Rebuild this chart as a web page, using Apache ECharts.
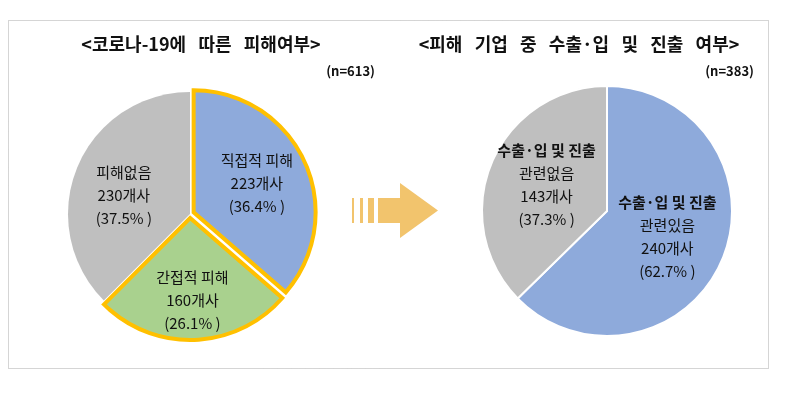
<!DOCTYPE html>
<html>
<head>
<meta charset="utf-8">
<script src="https://cdn.jsdelivr.net/npm/echarts@6/dist/echarts.min.js"></script>
<style>
html,body{margin:0;padding:0;background:#fff;}
#c{width:789px;height:394px;}
</style>
</head>
<body>
<div id="c"></div>
<script>
// Left chart data
const leftTitle = '<코로나-19에   따른   피해여부>';
const leftN = '(n=613)';
const leftNames = ['직접적 피해', '간접적 피해', '피해없음'];
const leftCounts = [223, 160, 230];
const leftPcts = ['36.4', '26.1', '37.5'];

// Right chart data
const rightTitle = '<피해   기업   중   수출·입   및   진출   여부>';
const rightN = '(n=383)';
const rightNames = ['수출·입 및 진출\n관련있음', '수출·입 및 진출\n관련없음'];
const rightCounts = [240, 143];
const rightPcts = ['62.7', '37.3'];

const FONT = '"Noto Sans CJK KR", "Noto Sans", sans-serif';
const BLUE = '#8EAADB', GRAY = '#BFBFBF', GREEN = '#A9D18E', GOLD = '#FFC000';

const chart = echarts.init(document.getElementById('c'), null, {renderer: 'canvas'});

const leftColors = [BLUE, GREEN, GRAY];
const leftData = leftNames.map((n, i) => ({
  name: n,
  value: leftCounts[i],
  selected: i < 2,
  itemStyle: i < 2
    ? {color: leftColors[i], borderColor: GOLD, borderWidth: 4, borderJoin: 'miter'}
    : {color: leftColors[i], borderColor: '#fff', borderWidth: 0},
  label: i === 1 ? {padding: [36, 0, 0, 0]} : (i === 2 ? {padding: [12, 14, 0, 0]} : {padding: [0, 0, 4, 10]})
}));

const rightColors = [BLUE, GRAY];
const rightData = rightNames.map((n, i) => ({
  name: n,
  value: rightCounts[i],
  itemStyle: {color: rightColors[i]},
  label: i === 1 ? {padding: [0, 0, 2, 0]} : {padding: [0, 0, 0, 0]}
}));

const labelText = (p, pcts) => {
  const lines = p.name.split('\n');
  const out = [];
  lines.forEach((l, k) => {
    if (lines.length > 1 && k === 0) out.push('{b|' + l + '}');
    else out.push('{a|' + l + '}');
  });
  out.push('{a|' + p.value + '개사}');
  out.push('{a|(' + pcts[p.dataIndex] + '% )}');
  return out.join('\n');
};

const richStyle = {
  a: {fontFamily: FONT, fontSize: 15, color: '#111', lineHeight: 23},
  b: {fontFamily: FONT, fontSize: 15, color: '#111', fontWeight: 'bold', lineHeight: 23}
};

chart.setOption({
  animation: false,
  backgroundColor: '#fff',
  title: [
    {text: leftTitle, left: 196, top: 30, textAlign: 'center',
     textStyle: {fontFamily: FONT, fontSize: 18, fontWeight: 'bold', color: '#111'}},
    {text: leftN, right: 789 - 380, top: 60,
     textStyle: {fontFamily: FONT, fontSize: 13, fontWeight: 'bold', color: '#111'}},
    {text: rightTitle, left: 574, top: 30, textAlign: 'center',
     textStyle: {fontFamily: FONT, fontSize: 18, fontWeight: 'bold', color: '#111'}},
    {text: rightN, right: 789 - 759, top: 60,
     textStyle: {fontFamily: FONT, fontSize: 13, fontWeight: 'bold', color: '#111'}}
  ],
  graphic: [
    {type: 'rect', shape: {x: 8.5, y: 20.5, width: 760, height: 348},
     style: {fill: 'none', stroke: '#AAAAAA', lineWidth: 1, lineDash: [1, 1]}, z: -1},
    // arrow decoration
    {type: 'rect', shape: {x: 352, y: 198, width: 2, height: 25}, style: {fill: '#F2C46D'}},
    {type: 'rect', shape: {x: 360, y: 198, width: 3, height: 25}, style: {fill: '#F2C46D'}},
    {type: 'rect', shape: {x: 368, y: 198, width: 6, height: 25}, style: {fill: '#F2C46D'}},
    {type: 'polygon', shape: {points: [[378, 198], [400, 198], [400, 183], [438, 210.5], [400, 238], [400, 223], [378, 223]]},
     style: {fill: '#F2C46D'}}
  ],
  series: [
    {
      type: 'pie',
      center: [190, 214],
      radius: [0, 122],
      startAngle: 90,
      clockwise: true,
      selectedMode: 'multiple',
      selectedOffset: 4,
      emphasis: {disabled: true},
      data: leftData,
      label: {
        show: true, position: 'inside',
        formatter: p => labelText(p, leftPcts),
        rich: richStyle
      },
      labelLine: {show: false}
    },
    {
      type: 'pie',
      center: [607, 211],
      radius: [0, 125],
      startAngle: 90,
      clockwise: true,
      emphasis: {disabled: true},
      itemStyle: {borderColor: '#fff', borderWidth: 2},
      data: rightData,
      label: {
        show: true, position: 'inside',
        formatter: p => labelText(p, rightPcts),
        rich: richStyle
      },
      labelLine: {show: false}
    }
  ]
});
</script>
</body>
</html>
